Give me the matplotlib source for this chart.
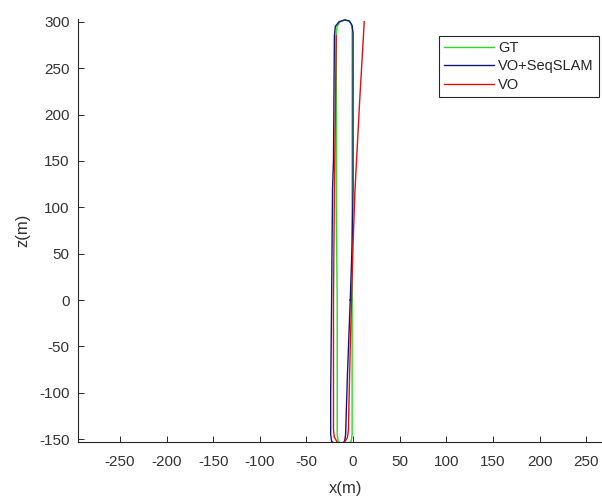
import matplotlib
matplotlib.use("Agg")
import matplotlib.pyplot as plt

plt.rcParams['font.family'] = ['Liberation Sans', 'DejaVu Sans']
plt.rcParams['axes.unicode_minus'] = False

# Trajectories (x, z in metres)
gt_x = [-1, -1, -1, -1, -1, -2, -5, -9, -14, -17, -18, -18, -18, -17, -17, -17,
        -16, -13, -9, -5, -2, -1, -1]
gt_z = [0, 100, 200, 285, 292, 298, 301, 302, 300, 295, 288, 200, 100, 0, -100, -145,
        -152, -155, -156, -155, -152, -145, 0]

seq_x = [-3, -1, 0, 0, 0, -1, -4, -9, -15, -19, -20, -21, -22, -23, -24, -24,
         -23, -20, -16, -12, -9, -8, -6, -3]
seq_z = [0, 60, 120, 200, 288, 296, 301, 302, 300, 295, 285, 150, 120, 0, -100, -145,
         -152, -155, -156, -155, -152, -145, -80, 0]

vo_x = [12, 7, 2, 0, -3, -5, -6, -9, -13, -17, -20, -21, -21, -20, -19, -18]
vo_z = [300, 213, 117, 60, -50, -140, -148, -153, -155, -153, -148, -140, 0, 120, 200, 285]

xticks = list(range(-250, 251, 50))
yticks = list(range(-150, 301, 50))

fig = plt.figure(figsize=(6.02, 5.00), dpi=100)
ax = fig.add_axes([78/602, 58/500, 524/602, 423/500])

ax.plot(gt_x, gt_z, color='#20e020', lw=1.0, label='GT')
ax.plot(seq_x, seq_z, color='#16167a', lw=1.0, label='VO+SeqSLAM')
ax.plot(vo_x, vo_z, color='#e01010', lw=1.0, label='VO')

ax.set_xlim(-295, 267)
ax.set_ylim(-153, 303)
ax.set_xticks(xticks)
ax.set_yticks(yticks)

for s in ['top', 'right']:
    ax.spines[s].set_visible(False)
for s in ['left', 'bottom']:
    ax.spines[s].set_color('#262626')
    ax.spines[s].set_linewidth(0.8)
ax.tick_params(direction='in', length=4, width=0.7, colors='#262626',
               labelsize=11, labelcolor='#333333')
ax.tick_params(axis='x', pad=9)
ax.tick_params(axis='y', pad=6)

ax.set_xlabel('x(m)', fontsize=12, color='#333333')
ax.set_ylabel('z(m)', fontsize=12, color='#333333')
ax.xaxis.set_label_coords(0.511, -0.092)
ax.yaxis.set_label_coords(-0.09, 0.5)

leg = ax.legend(loc='upper left', bbox_to_anchor=(439/602, 1 - 36/500),
                bbox_transform=fig.transFigure, borderaxespad=0,
                fontsize=10.5, handlelength=3.4, handletextpad=0.3,
                labelspacing=0.3, borderpad=0.35, fancybox=False,
                framealpha=1, edgecolor='#262626')
leg.get_frame().set_linewidth(0.8)
for t in leg.get_texts():
    t.set_color('#262626')

fig.savefig('out.png', dpi=100)
